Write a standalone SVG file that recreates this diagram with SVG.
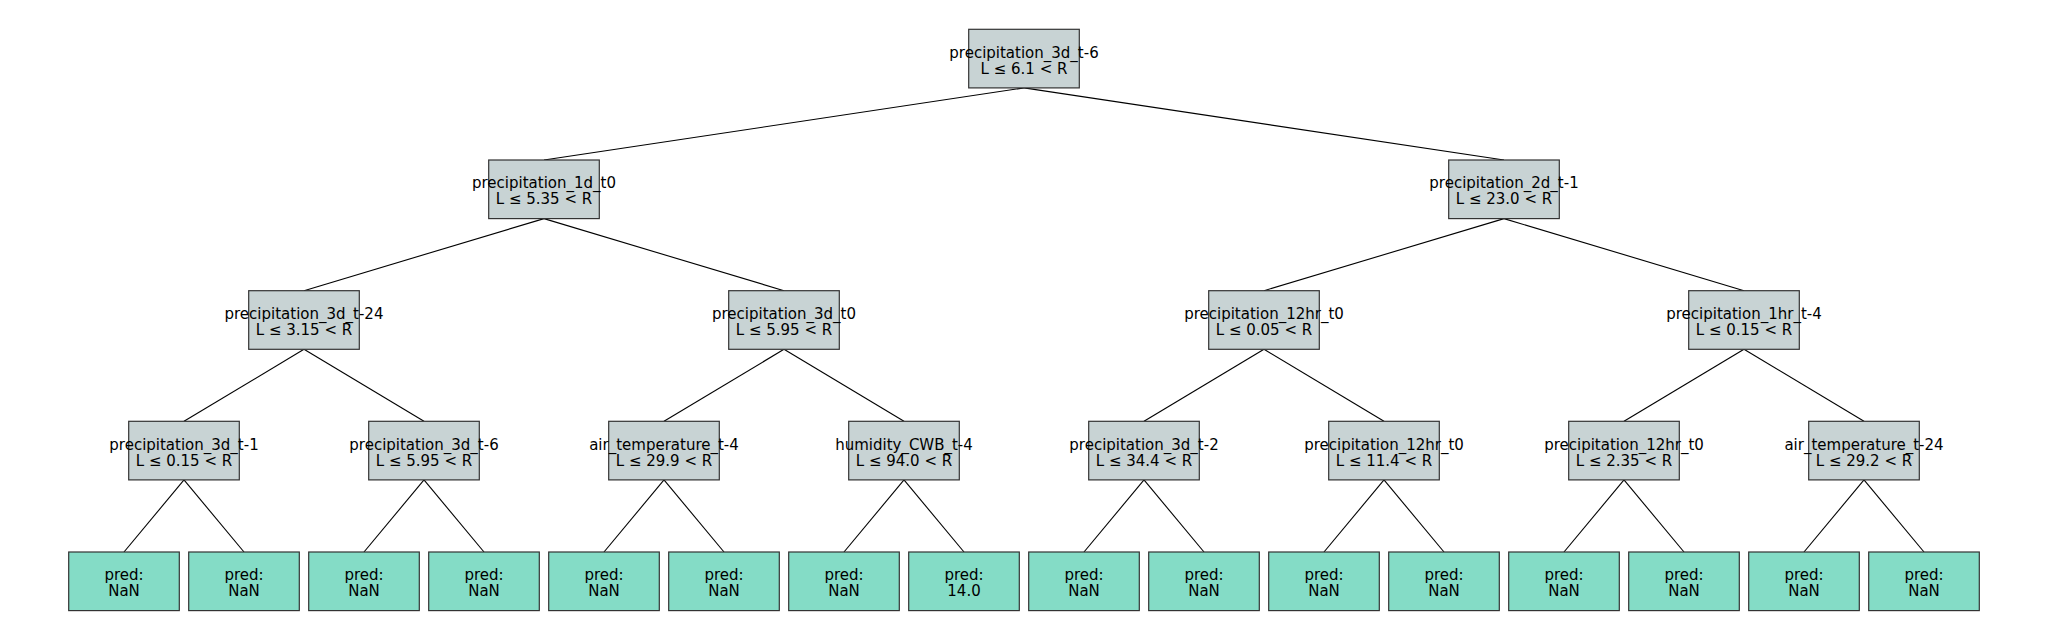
<svg xmlns="http://www.w3.org/2000/svg" width="2048" height="640" viewBox="0 0 2048 640">
<style>
.bg{fill:#ffffff}
.inner rect{fill:#c8d3d4;stroke:#333333;stroke-width:1.2}
.leaf rect{fill:#84dcc6;stroke:#333333;stroke-width:1.2}
text{font-family:"DejaVu Sans","Liberation Sans",sans-serif;font-size:15px;fill:#000;text-anchor:middle}
#connectors line{stroke:#000;stroke-width:1.1}
</style>
<rect class="bg" x="0" y="0" width="2048" height="640"/>
<g id="connectors">
<line x1="1024" y1="87.9" x2="544" y2="160"/>
<line x1="1024" y1="87.9" x2="1504" y2="160"/>
<line x1="544" y1="218.6" x2="304" y2="290.7"/>
<line x1="544" y1="218.6" x2="784" y2="290.7"/>
<line x1="1504" y1="218.6" x2="1264" y2="290.7"/>
<line x1="1504" y1="218.6" x2="1744" y2="290.7"/>
<line x1="304" y1="349.3" x2="184" y2="421.3"/>
<line x1="304" y1="349.3" x2="424" y2="421.3"/>
<line x1="784" y1="349.3" x2="664" y2="421.3"/>
<line x1="784" y1="349.3" x2="904" y2="421.3"/>
<line x1="1264" y1="349.3" x2="1144" y2="421.3"/>
<line x1="1264" y1="349.3" x2="1384" y2="421.3"/>
<line x1="1744" y1="349.3" x2="1624" y2="421.3"/>
<line x1="1744" y1="349.3" x2="1864" y2="421.3"/>
<line x1="184" y1="479.9" x2="124" y2="552"/>
<line x1="184" y1="479.9" x2="244" y2="552"/>
<line x1="424" y1="479.9" x2="364" y2="552"/>
<line x1="424" y1="479.9" x2="484" y2="552"/>
<line x1="664" y1="479.9" x2="604" y2="552"/>
<line x1="664" y1="479.9" x2="724" y2="552"/>
<line x1="904" y1="479.9" x2="844" y2="552"/>
<line x1="904" y1="479.9" x2="964" y2="552"/>
<line x1="1144" y1="479.9" x2="1084" y2="552"/>
<line x1="1144" y1="479.9" x2="1204" y2="552"/>
<line x1="1384" y1="479.9" x2="1324" y2="552"/>
<line x1="1384" y1="479.9" x2="1444" y2="552"/>
<line x1="1624" y1="479.9" x2="1564" y2="552"/>
<line x1="1624" y1="479.9" x2="1684" y2="552"/>
<line x1="1864" y1="479.9" x2="1804" y2="552"/>
<line x1="1864" y1="479.9" x2="1924" y2="552"/>
</g>
<g id="n0" class="inner"><rect x="968.7" y="29.3" width="110.6" height="58.6"/><text x="1024" y="57.5">precipitation_3d_t-6</text><text x="1024" y="73.5">L ≤ 6.1 &lt; R</text></g>
<g id="n1" class="inner"><rect x="488.7" y="160" width="110.6" height="58.6"/><text x="544" y="188.2">precipitation_1d_t0</text><text x="544" y="204.2">L ≤ 5.35 &lt; R</text></g>
<g id="n2" class="inner"><rect x="1448.7" y="160" width="110.6" height="58.6"/><text x="1504" y="188.2">precipitation_2d_t-1</text><text x="1504" y="204.2">L ≤ 23.0 &lt; R</text></g>
<g id="n3" class="inner"><rect x="248.7" y="290.7" width="110.6" height="58.6"/><text x="304" y="318.9">precipitation_3d_t-24</text><text x="304" y="334.9">L ≤ 3.15 &lt; R</text></g>
<g id="n4" class="inner"><rect x="728.7" y="290.7" width="110.6" height="58.6"/><text x="784" y="318.9">precipitation_3d_t0</text><text x="784" y="334.9">L ≤ 5.95 &lt; R</text></g>
<g id="n5" class="inner"><rect x="1208.7" y="290.7" width="110.6" height="58.6"/><text x="1264" y="318.9">precipitation_12hr_t0</text><text x="1264" y="334.9">L ≤ 0.05 &lt; R</text></g>
<g id="n6" class="inner"><rect x="1688.7" y="290.7" width="110.6" height="58.6"/><text x="1744" y="318.9">precipitation_1hr_t-4</text><text x="1744" y="334.9">L ≤ 0.15 &lt; R</text></g>
<g id="n7" class="inner"><rect x="128.7" y="421.3" width="110.6" height="58.6"/><text x="184" y="449.5">precipitation_3d_t-1</text><text x="184" y="465.5">L ≤ 0.15 &lt; R</text></g>
<g id="n8" class="inner"><rect x="368.7" y="421.3" width="110.6" height="58.6"/><text x="424" y="449.5">precipitation_3d_t-6</text><text x="424" y="465.5">L ≤ 5.95 &lt; R</text></g>
<g id="n9" class="inner"><rect x="608.7" y="421.3" width="110.6" height="58.6"/><text x="664" y="449.5">air_temperature_t-4</text><text x="664" y="465.5">L ≤ 29.9 &lt; R</text></g>
<g id="n10" class="inner"><rect x="848.7" y="421.3" width="110.6" height="58.6"/><text x="904" y="449.5">humidity_CWB_t-4</text><text x="904" y="465.5">L ≤ 94.0 &lt; R</text></g>
<g id="n11" class="inner"><rect x="1088.7" y="421.3" width="110.6" height="58.6"/><text x="1144" y="449.5">precipitation_3d_t-2</text><text x="1144" y="465.5">L ≤ 34.4 &lt; R</text></g>
<g id="n12" class="inner"><rect x="1328.7" y="421.3" width="110.6" height="58.6"/><text x="1384" y="449.5">precipitation_12hr_t0</text><text x="1384" y="465.5">L ≤ 11.4 &lt; R</text></g>
<g id="n13" class="inner"><rect x="1568.7" y="421.3" width="110.6" height="58.6"/><text x="1624" y="449.5">precipitation_12hr_t0</text><text x="1624" y="465.5">L ≤ 2.35 &lt; R</text></g>
<g id="n14" class="inner"><rect x="1808.7" y="421.3" width="110.6" height="58.6"/><text x="1864" y="449.5">air_temperature_t-24</text><text x="1864" y="465.5">L ≤ 29.2 &lt; R</text></g>
<g id="l0" class="leaf"><rect x="68.7" y="552" width="110.6" height="58.6"/><text x="124" y="580.2">pred:</text><text x="124" y="596.2">NaN</text></g>
<g id="l1" class="leaf"><rect x="188.7" y="552" width="110.6" height="58.6"/><text x="244" y="580.2">pred:</text><text x="244" y="596.2">NaN</text></g>
<g id="l2" class="leaf"><rect x="308.7" y="552" width="110.6" height="58.6"/><text x="364" y="580.2">pred:</text><text x="364" y="596.2">NaN</text></g>
<g id="l3" class="leaf"><rect x="428.7" y="552" width="110.6" height="58.6"/><text x="484" y="580.2">pred:</text><text x="484" y="596.2">NaN</text></g>
<g id="l4" class="leaf"><rect x="548.7" y="552" width="110.6" height="58.6"/><text x="604" y="580.2">pred:</text><text x="604" y="596.2">NaN</text></g>
<g id="l5" class="leaf"><rect x="668.7" y="552" width="110.6" height="58.6"/><text x="724" y="580.2">pred:</text><text x="724" y="596.2">NaN</text></g>
<g id="l6" class="leaf"><rect x="788.7" y="552" width="110.6" height="58.6"/><text x="844" y="580.2">pred:</text><text x="844" y="596.2">NaN</text></g>
<g id="l7" class="leaf"><rect x="908.7" y="552" width="110.6" height="58.6"/><text x="964" y="580.2">pred:</text><text x="964" y="596.2">14.0</text></g>
<g id="l8" class="leaf"><rect x="1028.7" y="552" width="110.6" height="58.6"/><text x="1084" y="580.2">pred:</text><text x="1084" y="596.2">NaN</text></g>
<g id="l9" class="leaf"><rect x="1148.7" y="552" width="110.6" height="58.6"/><text x="1204" y="580.2">pred:</text><text x="1204" y="596.2">NaN</text></g>
<g id="l10" class="leaf"><rect x="1268.7" y="552" width="110.6" height="58.6"/><text x="1324" y="580.2">pred:</text><text x="1324" y="596.2">NaN</text></g>
<g id="l11" class="leaf"><rect x="1388.7" y="552" width="110.6" height="58.6"/><text x="1444" y="580.2">pred:</text><text x="1444" y="596.2">NaN</text></g>
<g id="l12" class="leaf"><rect x="1508.7" y="552" width="110.6" height="58.6"/><text x="1564" y="580.2">pred:</text><text x="1564" y="596.2">NaN</text></g>
<g id="l13" class="leaf"><rect x="1628.7" y="552" width="110.6" height="58.6"/><text x="1684" y="580.2">pred:</text><text x="1684" y="596.2">NaN</text></g>
<g id="l14" class="leaf"><rect x="1748.7" y="552" width="110.6" height="58.6"/><text x="1804" y="580.2">pred:</text><text x="1804" y="596.2">NaN</text></g>
<g id="l15" class="leaf"><rect x="1868.7" y="552" width="110.6" height="58.6"/><text x="1924" y="580.2">pred:</text><text x="1924" y="596.2">NaN</text></g>
</svg>
